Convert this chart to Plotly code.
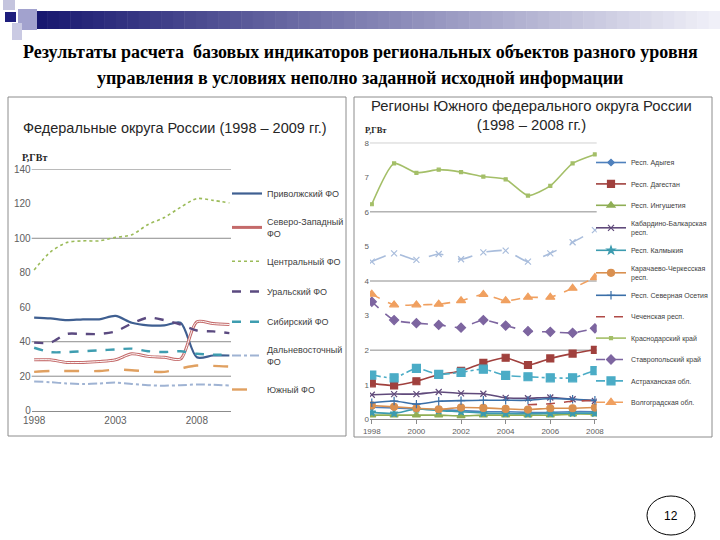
import plotly.graph_objects as go

W, H = 720, 540


def px(x):
    return x / W


def py(y):
    return 1 - y / H


# ---------------- data: federal districts ----------------
fd_years = [1998, 1999, 2000, 2001, 2002, 2003, 2004, 2005, 2006, 2007, 2008, 2009, 2010]
privolzh = [54, 53.5, 52.5, 53, 53, 55, 51, 49.5, 49.5, 51, 31, 32, 32]
szfo = [29.5, 29.5, 28, 28, 28.5, 29.5, 33, 31.5, 31, 30, 51.5, 50.5, 50]
central = [81.6, 92, 97.5, 98.5, 98.5, 100.5, 102, 108, 112, 118, 123, 122, 120.5]
ural = [39.5, 39.5, 44.5, 44.5, 44.5, 46, 50.5, 54, 52.5, 50, 46.5, 46, 45]
sibir = [36.5, 34, 34, 34.5, 35, 35.5, 36, 34.5, 34, 34.5, 33, 32.5, 32.5]
dalnevost = [17, 16.5, 15.8, 15.5, 15.8, 16.3, 15.5, 14.8, 14.5, 14.8, 15.2, 15, 14.6]
yuzhny = [22.5, 23, 23, 23, 23, 23.8, 23.5, 22.8, 22.5, 24.5, 26.2, 26, 25.6]
fd_ticks = [1998, 2003, 2008]
fd_yticks = [0, 20, 40, 60, 80, 100, 120, 140]
fd_grid = [20, 40, 100, 140]

# ---------------- data: southern regions ----------------
reg_years = [1998, 1999, 2000, 2001, 2002, 2003, 2004, 2005, 2006, 2007, 2008]
adygea = [0.35, 0.33, 0.3, 0.28, 0.25, 0.22, 0.22, 0.2, 0.2, 0.22, 0.22]
dagestan = [1.04, 0.98, 1.1, 1.29, 1.4, 1.63, 1.78, 1.57, 1.76, 1.9, 2.01]
ingush = [0.12, 0.12, 0.12, 0.12, 0.1, 0.12, 0.12, 0.12, 0.12, 0.15, 0.15]
kbr = [0.71, 0.73, 0.73, 0.79, 0.75, 0.74, 0.62, 0.61, 0.63, 0.58, 0.53]
kalmyk = [0.2, 0.17, 0.3, 0.25, 0.22, 0.18, 0.17, 0.16, 0.17, 0.18, 0.18]
kchr = [0.4, 0.36, 0.32, 0.29, 0.34, 0.33, 0.3, 0.28, 0.32, 0.32, 0.34]
osetia = [0.48, 0.53, 0.44, 0.52, 0.54, 0.55, 0.55, 0.55, 0.6, 0.58, 0.55]
chechen = [None, None, None, None, None, None, None, 0.42, 0.45, 0.52, 0.55]
krasnodar = [6.22, 7.4, 7.13, 7.22, 7.15, 7.02, 6.94, 6.47, 6.75, 7.4, 7.66]
stavropol = [3.4, 2.87, 2.78, 2.73, 2.65, 2.87, 2.71, 2.55, 2.53, 2.5, 2.63]
astrakhan = [1.28, 1.2, 1.47, 1.3, 1.36, 1.45, 1.27, 1.23, 1.2, 1.2, 1.41]
volgograd = [3.62, 3.31, 3.31, 3.33, 3.43, 3.61, 3.43, 3.53, 3.53, 3.79, 4.1]
rostov = [4.56, 4.8, 4.61, 4.78, 4.63, 4.83, 4.88, 4.56, 4.8, 5.12, 5.47]
reg_ticks = [1998, 2000, 2002, 2004, 2006, 2008]
reg_yticks = [0, 1, 2, 3, 4, 5, 6, 7, 8]
reg_grid = [2, 4, 6, 8]

fig = go.Figure()

# ---------------- left chart traces ----------------
left_series = [
    ("Приволжский ФО", privolzh, "#3F5F91", "solid", 2.2),
    ("Северо-Западный<br>ФО", szfo, "#C46A6A", "solid", 3),
    ("Центральный ФО", central, "#9BBB59", "dot", 1.6),
    ("Уральский ФО", ural, "#5B4A80", "dash", 2.4),
    ("Сибирский ФО", sibir, "#3E9DB0", "dash", 2.4),
    ("Дальневосточный<br>ФО", dalnevost, "#9FB3D3", "dashdot", 2),
    ("Южный ФО", yuzhny, "#E0A060", "longdash", 2.4),
]
for i, (name, vals, col, dash, wd) in enumerate(left_series):
    fig.add_trace(go.Scatter(
        x=fd_years, y=vals, name=name, mode="lines",
        line=dict(color=col, dash=dash, width=wd, shape="spline", smoothing=0.8),
        xaxis="x", yaxis="y", legend="legend", legendgroup=f"l{i}",
    ))
    if i == 1:
        fig.add_trace(go.Scatter(
            x=fd_years, y=vals, mode="lines", showlegend=False, hoverinfo="skip",
            line=dict(color="#FFFFFF", width=1, shape="spline", smoothing=0.8),
            xaxis="x", yaxis="y",
        ))

# ---------------- right chart traces ----------------
right_series = [
    ("Респ. Адыгея", adygea, "#4F81BD", "solid", "diamond", 5),
    ("Респ. Дагестан", dagestan, "#A0403D", "solid", "square", 7),
    ("Респ. Ингушетия", ingush, "#8FAE55", "solid", "triangle-up", 7),
    ("Кабардино-Балкарская<br>респ.", kbr, "#604A7B", "solid", "x-thin-open", 6),
    ("Респ. Калмыкия", kalmyk, "#3C9BAF", "solid", "star", 6),
    ("Карачаево-Черкесская<br>респ.", kchr, "#D99050", "solid", "circle", 7),
    ("Респ. Северная Осетия", osetia, "#3A6FA8", "solid", "cross-thin-open", 6),
    ("Чеченская респ.", chechen, "#B04A47", "dash", None, 0),
    ("Краснодарский край", krasnodar, "#A4BF68", "solid", "square", 3),
    ("Ставропольский край", stavropol, "#7D65A0", "dash", "diamond", 7),
    ("Астраханская обл.", astrakhan, "#4BACC6", "dashdot", "square", 8),
    ("Волгоградская обл.", volgograd, "#F0A060", "dash", "triangle-up", 8),
    ("Ростовская обл.", rostov, "#A9BDDC", "longdash", "x-thin-open", 6),
]
for i, (name, vals, col, dash, sym, ms) in enumerate(right_series):
    kw = dict(mode="lines")
    if sym:
        kw = dict(mode="lines+markers",
                  marker=dict(symbol=sym, size=ms, color=col,
                              line=dict(color=col, width=1.2)))
    fig.add_trace(go.Scatter(
        x=reg_years, y=vals, name=name,
        line=dict(color=col, dash=dash, width=1.6, shape="spline", smoothing=0.6),
        xaxis="x2", yaxis="y2", legend="legend2", legendgroup=f"r{i}",
        showlegend=(name != "Ростовская обл."), connectgaps=False, **kw,
    ))

tickfont = dict(family="Liberation Sans Narrow, Arial Narrow, Liberation Sans, Arial", size=10, color="#606060")

shapes = []
# header gradient bar
x0, x1, n = 36, 720, 60
c0, c1 = (24, 24, 112), (240, 240, 248)
for k in range(n):
    t = k / (n - 1)
    col = "rgb(%d,%d,%d)" % tuple(round(c0[j] + (c1[j] - c0[j]) * t) for j in range(3))
    xa = x0 + (x1 - x0) * k / n
    xb = x0 + (x1 - x0) * (k + 1) / n + 0.5
    shapes.append(dict(type="rect", xref="paper", yref="paper", x0=px(xa), x1=px(xb),
                       y0=py(29), y1=py(11), line=dict(width=0), fillcolor=col, layer="below"))
for (a, b, c, d, col) in [(3, 0, 15, 10, "#C4C4DE"), (5, 12, 16, 22, "#1E1E7C"),
                          (18, 9, 37, 30, "#A2A2CE"), (12, 23, 22, 40, "#CACAE3")]:
    shapes.append(dict(type="rect", xref="paper", yref="paper", x0=px(a), x1=px(c),
                       y0=py(d), y1=py(b), line=dict(width=0), fillcolor=col))
# panel borders
for (a, b, c, d) in [(8, 97, 346, 436), (354, 97, 712, 437)]:
    shapes.append(dict(type="rect", xref="paper", yref="paper", x0=px(a), x1=px(c),
                       y0=py(d), y1=py(b), line=dict(color="#8C8C8C", width=1)))
# gridlines
for v in fd_grid:
    shapes.append(dict(type="line", xref="x domain", yref="y", x0=0, x1=1, y0=v, y1=v,
                       line=dict(color="#8C8C8C", width=1), layer="below"))
for v in reg_grid:
    shapes.append(dict(type="line", xref="x2 domain", yref="y2", x0=0, x1=1, y0=v, y1=v,
                       line=dict(color="#8C8C8C", width=1), layer="below"))
# page number ellipse
shapes.append(dict(type="circle", xref="paper", yref="paper", x0=px(647), x1=px(695),
                   y0=py(535), y1=py(496), line=dict(color="#000000", width=1)))

serif = "Liberation Serif, Times New Roman, serif"
sans = "Liberation Sans, Arial, sans-serif"
annotations = [
    dict(text="<b>Результаты расчета  базовых индикаторов региональных объектов разного уровня</b>",
         x=px(360), y=py(52), font=dict(family=serif, size=18, color="#000000")),
    dict(text="<b>управления в условиях неполно заданной исходной информации</b>",
         x=px(360), y=py(78), font=dict(family=serif, size=18, color="#000000")),
    dict(text="Федеральные округа России (1998 – 2009 гг.)",
         x=px(175), y=py(128), font=dict(family=sans, size=14.5, color="#262626")),
    dict(text="Регионы Южного федерального округа России<br>(1998 – 2008 гг.)",
         x=px(531), y=py(116), font=dict(family=sans, size=14.8, color="#262626")),
    dict(text="<b>Р,ГВт</b>", x=px(34), y=py(158), font=dict(family=serif, size=10, color="#262626")),
    dict(text="<b>Р,ГВт</b>", x=px(376), y=py(130), font=dict(family=serif, size=8.5, color="#262626")),
    dict(text="12", x=px(671), y=py(516), font=dict(family=sans, size=12, color="#000000")),
]
for a in annotations:
    a.update(xref="paper", yref="paper", showarrow=False, xanchor="center", yanchor="middle")

fig.update_layout(
    width=W, height=H, margin=dict(l=0, r=0, t=0, b=0, autoexpand=False),
    paper_bgcolor="#FFFFFF", plot_bgcolor="rgba(0,0,0,0)",
    shapes=shapes, annotations=annotations, showlegend=True,
    xaxis=dict(domain=[px(31.7), px(231)], range=[1997.85, 2010.1], tickvals=fd_ticks,
               showgrid=False, zeroline=False, showline=True, linecolor="#8C8C8C",
               tickfont=tickfont, ticks="", automargin=False),
    yaxis=dict(domain=[py(410.7), py(169.3)], range=[0, 140], tickvals=fd_yticks,
               showgrid=False, zeroline=False, tickfont=tickfont, ticks="", automargin=False),
    xaxis2=dict(domain=[px(370), px(596.7)], range=[1997.92, 2008.08], tickvals=reg_ticks,
                anchor="y2", showgrid=False, zeroline=False, showline=True, linecolor="#8C8C8C",
                tickfont=dict(tickfont, size=8), ticks="outside", ticklen=4, tickcolor="#8C8C8C",
                automargin=False),
    yaxis2=dict(domain=[py(419.3), py(142.7)], range=[0, 8], tickvals=reg_yticks, anchor="x2",
                showgrid=False, zeroline=False, tickfont=dict(tickfont, size=8), ticks="",
                automargin=False),
    legend=dict(x=px(227), y=py(179), xanchor="left", yanchor="top",
                font=dict(family=sans, size=9, color="#404040"), bgcolor="rgba(0,0,0,0)",
                traceorder="grouped", tracegroupgap=11.2, itemwidth=30),
    legend2=dict(x=px(591), y=py(148), xanchor="left", yanchor="top",
                 font=dict(family=sans, size=7, color="#404040"), bgcolor="rgba(0,0,0,0)",
                 traceorder="grouped", tracegroupgap=2.4, itemwidth=30),
)

fig.write_html(
    "out.html",
    config={"displayModeBar": False},
    post_script="document.body.style.margin='0';document.body.style.padding='0';"
                "document.documentElement.style.overflow='hidden';",
)
